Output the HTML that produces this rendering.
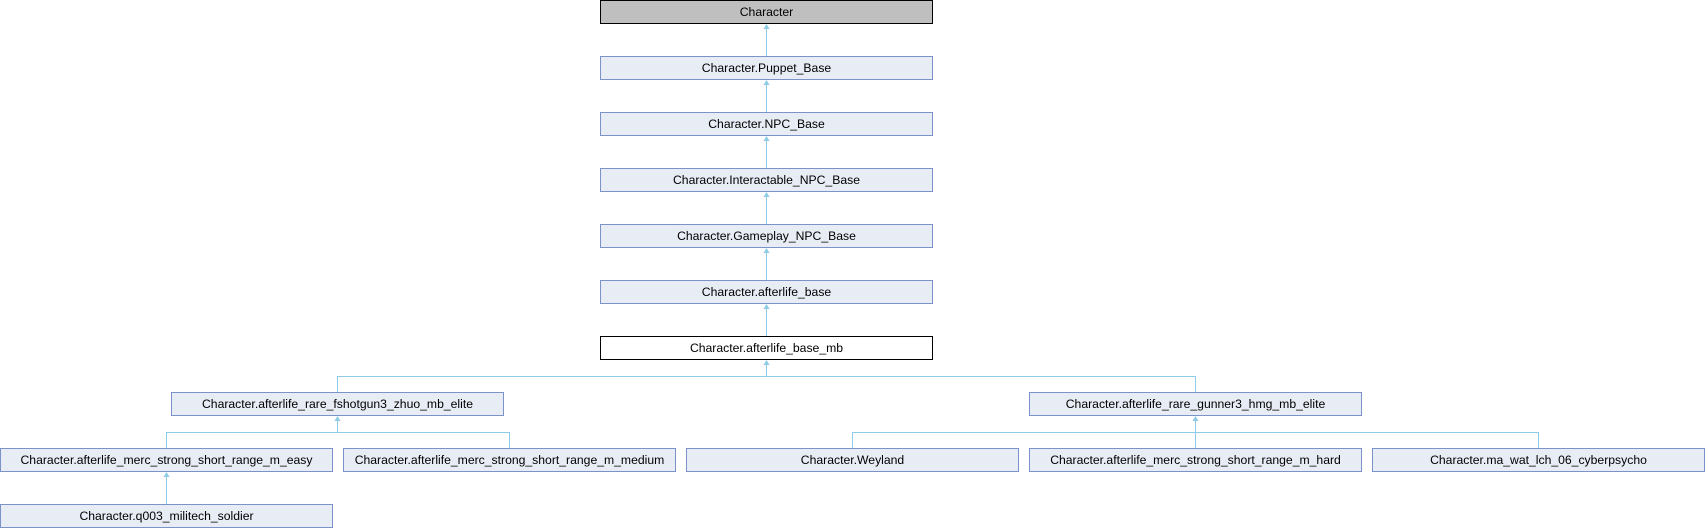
<!DOCTYPE html>
<html><head><meta charset="utf-8"><style>
html,body{margin:0;padding:0;background:#fff;}
svg{display:block;}
text{font-family:"Liberation Sans",Arial,sans-serif;font-size:12.2px;fill:#000;text-anchor:middle;}
.n{fill:#e8ecf5;stroke:#7b93c8;stroke-width:1;}
.l{stroke:#8ecbe8;stroke-width:1;fill:none;}
.a{fill:#8ecbe8;}
</style></head><body>
<svg width="1705" height="528" viewBox="0 0 1705 528" xmlns="http://www.w3.org/2000/svg">
<g class="l">
<path d="M766.5 28 V56"/>
<path d="M766.5 84 V112"/>
<path d="M766.5 140 V168"/>
<path d="M766.5 196 V224"/>
<path d="M766.5 252 V280"/>
<path d="M766.5 308 V336"/>
<path d="M766.5 364 V376.5 H337.5 V392"/>
<path d="M766.5 376.5 H1195.5 V392"/>
<path d="M337.5 420 V432.5 H166.5 V448"/>
<path d="M337.5 432.5 H509.5 V448"/>
<path d="M1195.5 420 V432.5 H852.5 V448"/>
<path d="M1195.5 432.5 H1538.5 V448"/>
<path d="M1195.5 432.5 V448"/>
<path d="M166.5 476 V504"/>
</g>
<g class="a">
<path d="M766.5 24 l-3 5 h6z"/>
<path d="M766.5 80 l-3 5 h6z"/>
<path d="M766.5 136 l-3 5 h6z"/>
<path d="M766.5 192 l-3 5 h6z"/>
<path d="M766.5 248 l-3 5 h6z"/>
<path d="M766.5 304 l-3 5 h6z"/>
<path d="M766.5 360 l-3 5 h6z"/>
<path d="M337.5 416 l-3 5 h6z"/>
<path d="M1195.5 416 l-3 5 h6z"/>
<path d="M166.5 472 l-3 5 h6z"/>
</g>
<rect x="600.5" y="0.5" width="332" height="23" fill="#bfbfbf" stroke="#000"/>
<text x="766.5" y="16">Character</text>
<rect class="n" x="600.5" y="56.5" width="332" height="23"/>
<text x="766.5" y="72">Character.Puppet_Base</text>
<rect class="n" x="600.5" y="112.5" width="332" height="23"/>
<text x="766.5" y="128">Character.NPC_Base</text>
<rect class="n" x="600.5" y="168.5" width="332" height="23"/>
<text x="766.5" y="184">Character.Interactable_NPC_Base</text>
<rect class="n" x="600.5" y="224.5" width="332" height="23"/>
<text x="766.5" y="240">Character.Gameplay_NPC_Base</text>
<rect class="n" x="600.5" y="280.5" width="332" height="23"/>
<text x="766.5" y="296">Character.afterlife_base</text>
<rect x="600.5" y="336.5" width="332" height="23" fill="#fff" stroke="#000"/>
<text x="766.5" y="352">Character.afterlife_base_mb</text>
<rect class="n" x="171.5" y="392.5" width="332" height="23"/>
<text x="337.5" y="408">Character.afterlife_rare_fshotgun3_zhuo_mb_elite</text>
<rect class="n" x="1029.5" y="392.5" width="332" height="23"/>
<text x="1195.5" y="408">Character.afterlife_rare_gunner3_hmg_mb_elite</text>
<rect class="n" x="0.5" y="448.5" width="332" height="23"/>
<text x="166.5" y="464">Character.afterlife_merc_strong_short_range_m_easy</text>
<rect class="n" x="343.5" y="448.5" width="332" height="23"/>
<text x="509.5" y="464">Character.afterlife_merc_strong_short_range_m_medium</text>
<rect class="n" x="686.5" y="448.5" width="332" height="23"/>
<text x="852.5" y="464">Character.Weyland</text>
<rect class="n" x="1029.5" y="448.5" width="332" height="23"/>
<text x="1195.5" y="464">Character.afterlife_merc_strong_short_range_m_hard</text>
<rect class="n" x="1372.5" y="448.5" width="332" height="23"/>
<text x="1538.5" y="464">Character.ma_wat_lch_06_cyberpsycho</text>
<rect class="n" x="0.5" y="504.5" width="332" height="23"/>
<text x="166.5" y="520">Character.q003_militech_soldier</text>
</svg>
</body></html>
